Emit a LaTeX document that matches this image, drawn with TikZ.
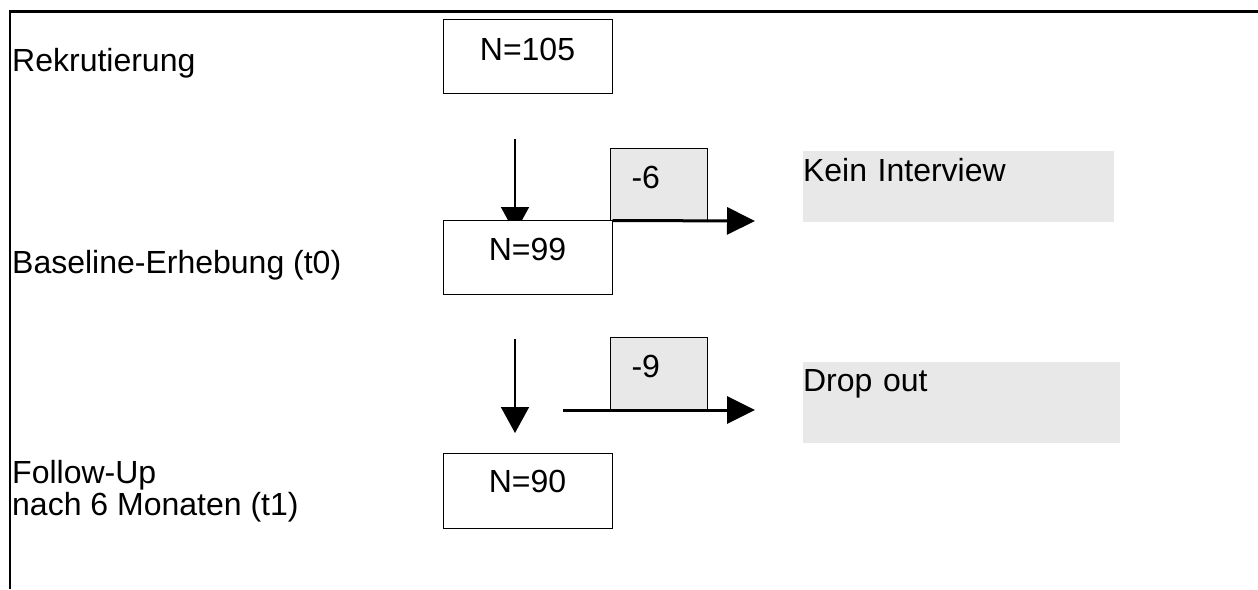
\documentclass[tikz,border=0pt]{standalone}
\usepackage{fontspec}
\setmainfont{Liberation Sans}
\usetikzlibrary{arrows.meta}
\definecolor{boxgrey}{RGB}{232,232,232}
\pgfdeclarelayer{bg}
\pgfsetlayers{bg,main}
\tikzset{
  txt/.style={font=\fontsize{32}{32}\selectfont},
  countbox/.style={txt, draw=black, line width=1pt, fill=white,
    inner sep=0pt, minimum width=169pt},
  lossbox/.style={txt, draw=black, line width=1pt, fill=boxgrey,
    inner ysep=0pt, inner xsep=21pt, text width=55pt, align=left},
  reasonbox/.style={txt, fill=boxgrey, inner sep=0pt, align=left},
  stagelabel/.style={txt, inner sep=0pt, anchor=base west, align=left},
  flow/.style={line width=1.7pt, -{Triangle[length=26pt,width=28pt]}},
  drop/.style={line width=3pt, -{Triangle[length=28pt,width=27pt]}},
}
\begin{document}
\begin{tikzpicture}[x=1pt,y=-1pt]
\useasboundingbox (0,0) rectangle (1258,589);

% frame
\draw[line width=2.2pt] (10,589) -- (10,11.5) -- (1258,11.5);

% stage labels (base anchor sits on the last line)
\node[stagelabel] (lrek) at (12,71) {Rekrutierung};
\node[stagelabel] (lbase) at (12,273) {Baseline-Erhebung (t0)};
\node[stagelabel] (lfollow) at (12,515) {Follow-Up\\nach 6 Monaten (t1)};

% sample sizes
\node[countbox, text height=41pt, text depth=33pt] (n105) at (527.5,56) {N=105};
\node[countbox, text height=40pt, text depth=34pt] (n99) at (527.5,257) {N=99};
\node[countbox, text height=39pt, text depth=36pt] (n90) at (527.5,490.5) {N=90};

% losses
\node[lossbox, text height=40pt, text depth=32pt] (m6) at (659,184) {-6};
\node[lossbox, text height=40pt, text depth=32pt] (m9) at (659,373) {-9};
\node[reasonbox, text width=311pt, text height=30pt, text depth=41pt] (kein) at (958.5,186.5) {Kein Interview};
\node[reasonbox, text width=317pt, text height=29pt, text depth=52pt] (dropout) at (961.5,402.5) {Drop out};

% connectors
\coordinate (a1s) at (515,139);
\coordinate (a1e) at (515,233);
\coordinate (a2s) at (515,339);
\coordinate (a2e) at (515,433);
\coordinate (h1e) at (755,221);
\coordinate (h2s) at (563,410);
\coordinate (h2e) at (755,410);

\begin{pgfonlayer}{bg}
\draw[flow] (a1s) -- (a1e);
\end{pgfonlayer}
\draw[flow] (a2s) -- (a2e);
\draw[drop] ([yshift=-1pt]n99.north east) -- (h1e);
\draw[drop] (h2s) -- (h2e);
\end{tikzpicture}
\end{document}
